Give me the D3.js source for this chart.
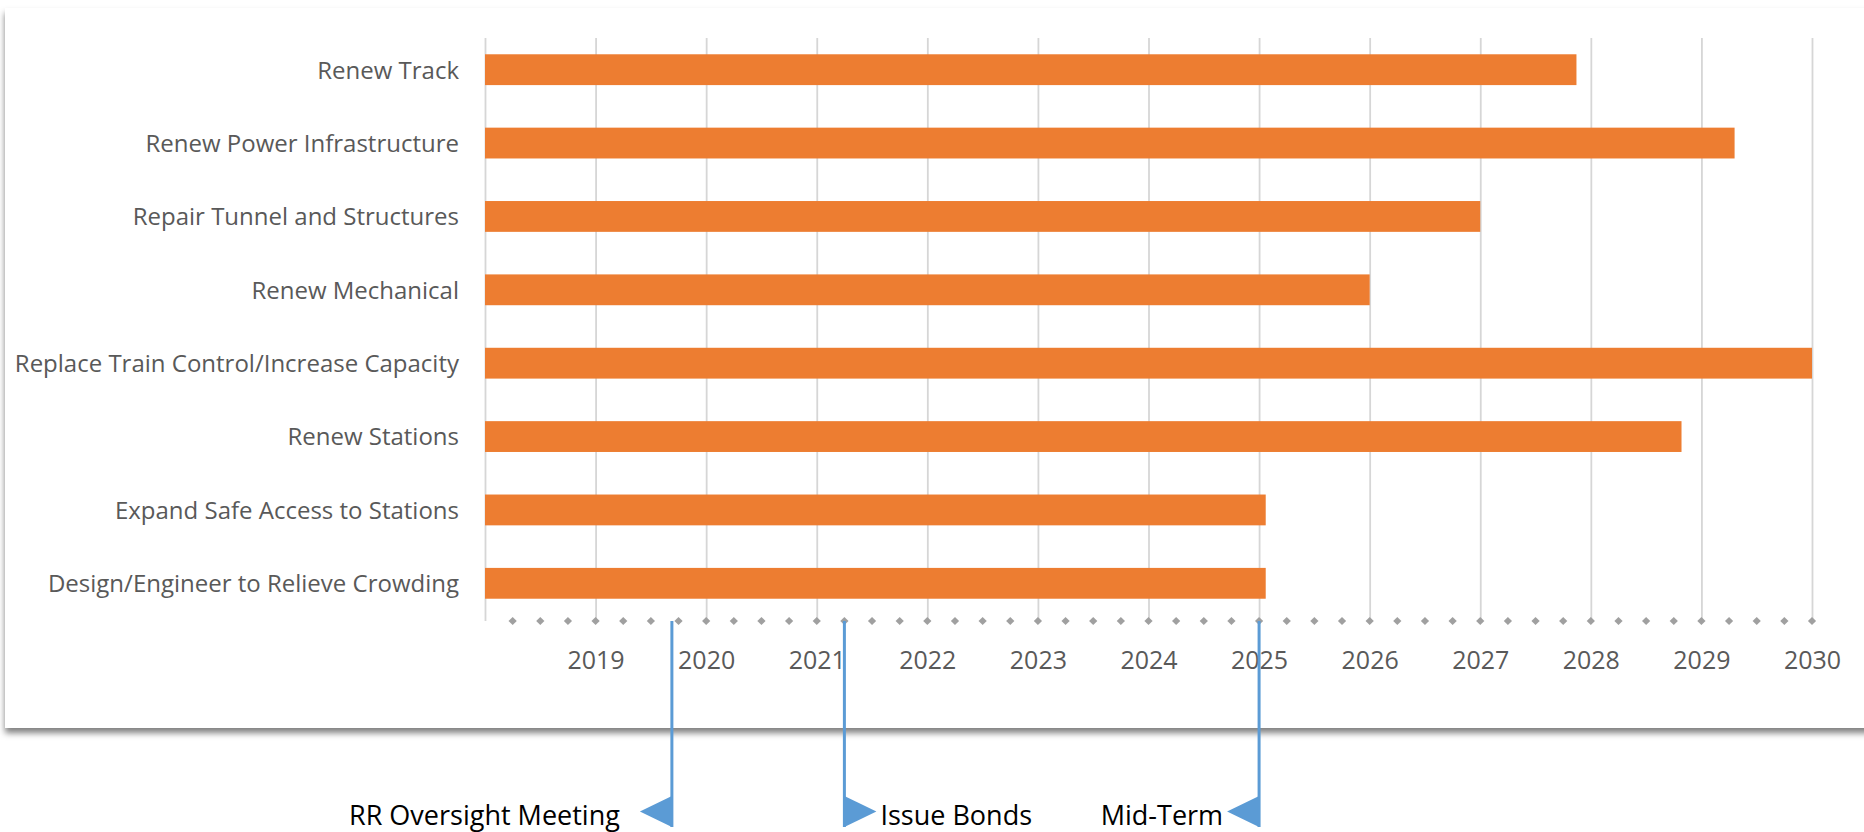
<!DOCTYPE html>
<html>
<head>
<meta charset="utf-8">
<script src="https://cdn.jsdelivr.net/npm/d3@7"></script>
<style>
  body { margin: 0; background: #fff; }
  svg { display: block; }
</style>
</head>
<body>
<div id="chart"></div>
<script>
// task names, top to bottom
var tasks = [
  "Renew Track",
  "Renew Power Infrastructure",
  "Repair Tunnel and Structures",
  "Renew Mechanical",
  "Replace Train Control/Increase Capacity",
  "Renew Stations",
  "Expand Safe Access to Stations",
  "Design/Engineer to Relieve Crowding"
];
// start / end (decimal years)
var taskStart = [2018, 2018, 2018, 2018, 2018, 2018, 2018, 2018];
var taskEnd   = [2027.87, 2029.3, 2027.0, 2026.0, 2030.0, 2028.82, 2025.06, 2025.06];

// year tick labels
var yearTicks = [2019, 2020, 2021, 2022, 2023, 2024, 2025, 2026, 2027, 2028, 2029, 2030];

// milestones under the chart
var milestoneNames = ["RR Oversight Meeting", "Issue Bonds", "Mid-Term"];
var milestoneDates = [2019.69, 2021.25, 2025.0];
var milestoneSide  = ["left", "right", "left"];
var labelGap = [20, 4, 4];

var W = 1864, H = 832;
var axisY = 621, gridTop = 38;

var svg = d3.select("#chart")
  .append("svg")
    .attr("width", W)
    .attr("height", H);

// card with drop shadow
var defs = svg.append("defs");
var f = defs.append("filter").attr("id", "shadow")
  .attr("x", "-1%").attr("y", "-2%").attr("width", "102%").attr("height", "106%");
f.append("feDropShadow")
  .attr("dx", 0).attr("dy", 5)
  .attr("stdDeviation", 3)
  .attr("flood-color", "#000")
  .attr("flood-opacity", 0.5);

svg.append("rect")
  .attr("x", 5).attr("y", 8)
  .attr("width", W + 20).attr("height", 720)
  .attr("fill", "#fff")
  .attr("filter", "url(#shadow)");

var x = d3.scaleLinear().domain([2018, 2030]).range([485, 1812]);
var y = d3.scaleBand().domain(tasks).range([33, 620])
  .paddingInner(0.58).paddingOuter(0.29);

// vertical gridlines (2018 .. 2030)
var gridYears = [2018].concat(yearTicks);
var grid = svg.append("g")
  .attr("transform", "translate(0," + axisY + ")")
  .call(d3.axisBottom(x).tickValues(gridYears).tickSize(-(axisY - gridTop)).tickFormat(""));
grid.select(".domain").remove();
grid.selectAll("line").attr("stroke", "#d6d6d6").attr("stroke-width", 1.8);

// quarter markers along the axis
var quarters = d3.range(2018.25, 2030.01, 0.25);
svg.append("g").selectAll("path")
  .data(quarters)
  .enter()
  .append("path")
    .attr("d", d3.symbol().type(d3.symbolSquare).size(34))
    .attr("transform", function(d) { return "translate(" + x(d) + "," + axisY + ") rotate(45)"; })
    .attr("fill", "#a0a0a0");

// year labels
var xAxis = svg.append("g")
  .attr("transform", "translate(0," + axisY + ")")
  .call(d3.axisBottom(x).tickValues(yearTicks).tickSize(0).tickFormat(d3.format("d")));
xAxis.select(".domain").remove();
xAxis.selectAll("text")
  .attr("y", 48).attr("dy", 0)
  .attr("fill", "#595959")
  .style("font-family", "'Open Sans', sans-serif")
  .style("font-size", "25px");

// bars
svg.append("g").selectAll("rect")
  .data(tasks)
  .enter()
  .append("rect")
    .attr("x", function(d, i) { return x(taskStart[i]); })
    .attr("y", function(d) { return y(d); })
    .attr("width", function(d, i) { return x(taskEnd[i]) - x(taskStart[i]); })
    .attr("height", y.bandwidth())
    .attr("fill", "#ed7d31");

// task labels
svg.append("g").selectAll("text")
  .data(tasks)
  .enter()
  .append("text")
    .attr("x", 459)
    .attr("y", function(d) { return y(d) + y.bandwidth() / 2; })
    .attr("dy", "0.37em")
    .attr("text-anchor", "end")
    .attr("fill", "#595959")
    .style("font-family", "'Open Sans', sans-serif")
    .style("font-size", "24px")
    .text(function(d) { return d; });

// milestones: blue drop lines with triangle pointers
var triTop = 796, triBot = 827, triW = 32;
var ms = svg.append("g").selectAll("g")
  .data(milestoneNames)
  .enter()
  .append("g");

ms.append("line")
  .attr("x1", function(d, i) { return x(milestoneDates[i]); })
  .attr("x2", function(d, i) { return x(milestoneDates[i]); })
  .attr("y1", axisY)
  .attr("y2", triBot)
  .attr("stroke", "#5b9bd5")
  .attr("stroke-width", 3);

ms.append("path")
  .attr("d", function(d, i) {
    var lx = x(milestoneDates[i]);
    var ax = milestoneSide[i] == "left" ? lx - triW : lx + triW;
    return "M" + lx + "," + triTop + "L" + ax + "," + ((triTop + triBot) / 2) + "L" + lx + "," + triBot + "Z";
  })
  .attr("fill", "#5b9bd5");

ms.append("text")
  .attr("x", function(d, i) {
    var lx = x(milestoneDates[i]);
    return milestoneSide[i] == "left" ? lx - triW - labelGap[i] : lx + triW + labelGap[i];
  })
  .attr("y", 825)
  .attr("text-anchor", function(d, i) { return milestoneSide[i] == "left" ? "end" : "start"; })
  .attr("fill", "#000")
  .style("font-family", "'Open Sans', sans-serif")
  .style("font-size", "27px")
  .text(function(d) { return d; });
</script>
</body>
</html>
